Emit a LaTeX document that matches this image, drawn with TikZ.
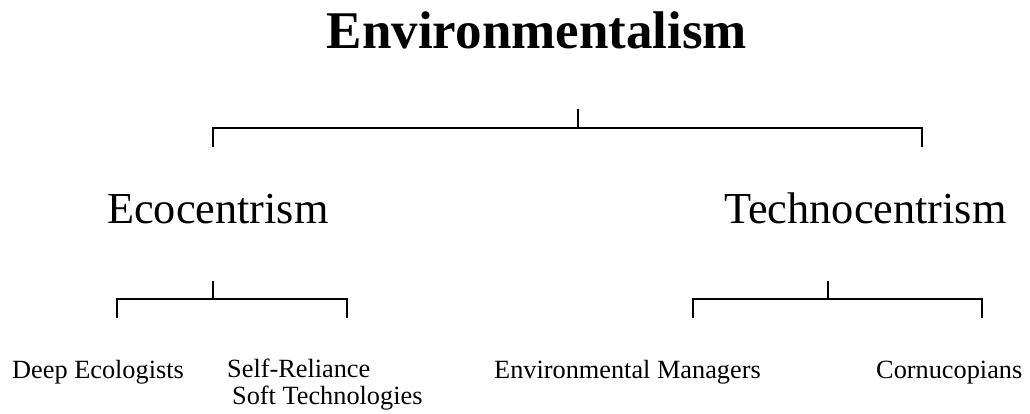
\documentclass[tikz,border=0pt]{standalone}
\usepackage{fontspec}
\setmainfont{Liberation Serif}
\usetikzlibrary{positioning}

\tikzset{
  heading/.style={inner sep=0pt, font=\fontsize{53}{60}\selectfont\bfseries},
  branch/.style={inner sep=0pt, font=\fontsize{44.3}{50}\selectfont},
  leaf/.style={inner sep=0pt, align=left, font=\fontsize{26.3}{26.5}\selectfont},
  bracket/.style={line width=2.3pt, line cap=rect}
}

\begin{document}
\begin{tikzpicture}[x=1pt, y=-1pt]
  \useasboundingbox (0,0) rectangle (1030,414);

  % Title
  \node[heading, anchor=base] (env) at (537,49) {Environmentalism};

  % Main branches
  \node[branch, anchor=base west] (eco) at (107,223) {Ecocentrism};
  \node[branch, anchor=base west] (tech) at (724,223) {Technocentrism};

  % Leaves
  \node[leaf, anchor=base west] (deep) at (12,378) {Deep Ecologists};
  \node[leaf, anchor=base west] (self) at (227,404) {Self-Reliance\\\hspace{5pt}Soft Technologies};
  \node[leaf, anchor=base west] (mgr) at (494,378) {Environmental Managers};
  \node[leaf, anchor=base west] (corn) at (876,378) {Cornucopians};

  % Top bracket
  \coordinate (top-l) at (213,128);
  \coordinate (top-m) at (578,128);
  \coordinate (top-r) at (922,128);
  \draw[bracket] (top-l) ++(0,18) -- (top-l) -- (top-r) -- ++(0,18);
  \draw[bracket] (top-m) -- ++(0,-18);

  % Left bracket
  \coordinate (eco-l) at (117,299);
  \coordinate (eco-m) at (213,299);
  \coordinate (eco-r) at (347,299);
  \draw[bracket] (eco-l) ++(0,18) -- (eco-l) -- (eco-r) -- ++(0,18);
  \draw[bracket] (eco-m) -- ++(0,-17);

  % Right bracket
  \coordinate (tech-l) at (693,299);
  \coordinate (tech-m) at (828,299);
  \coordinate (tech-r) at (982,299);
  \draw[bracket] (tech-l) ++(0,18) -- (tech-l) -- (tech-r) -- ++(0,18);
  \draw[bracket] (tech-m) -- ++(0,-17);
\end{tikzpicture}
\end{document}
